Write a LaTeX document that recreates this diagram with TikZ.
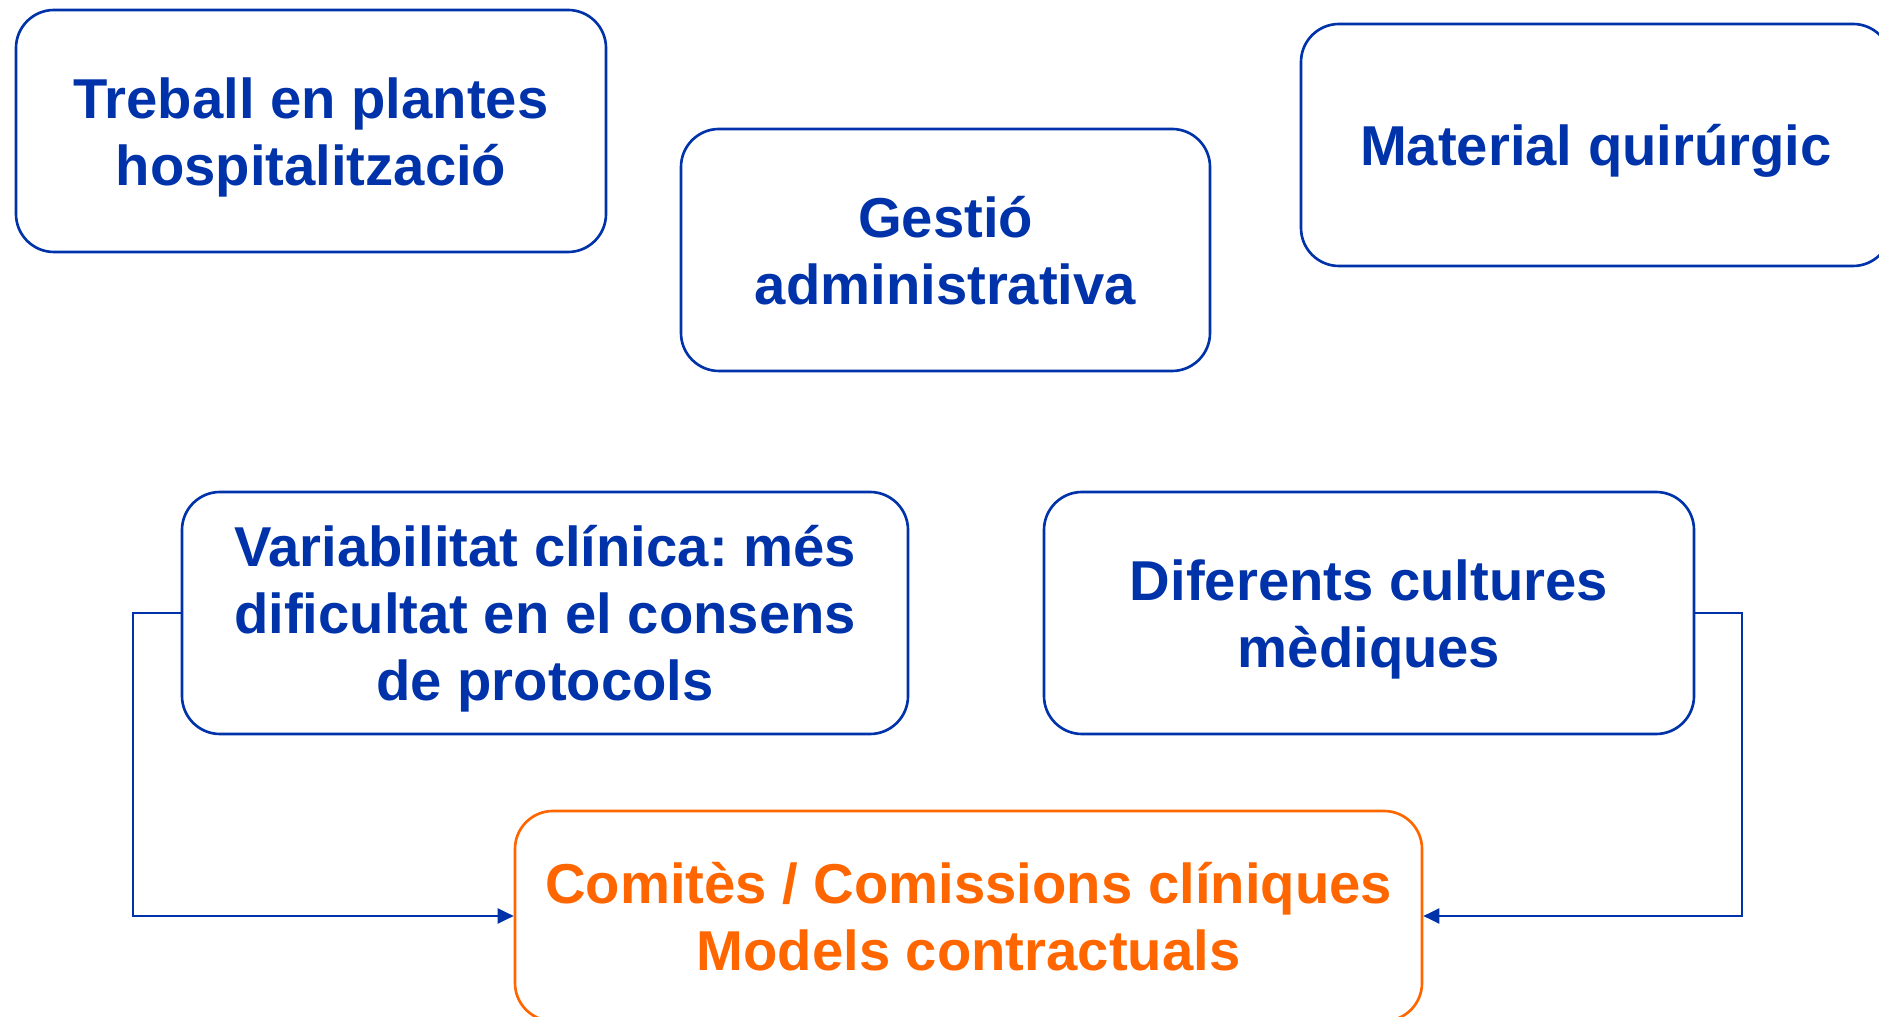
\documentclass[tikz,border=0pt]{standalone}
\usepackage{fontspec}
\setmainfont{Liberation Sans}
\usepackage{tikz}
\usetikzlibrary{arrows.meta,positioning,calc}
\frenchspacing
\definecolor{blauFosc}{RGB}{0,51,170}
\definecolor{taronja}{RGB}{255,102,0}
\tikzstyle{caixa}  =[draw=blauFosc, text=blauFosc, line width=0.75pt,
                    rounded corners=0.38cm, align=center, inner sep=0pt,
                    minimum height=2.42cm,
                    font=\fontsize{16}{19}\selectfont\bfseries,
                    text height=15.2pt, text depth=3.4pt]
\tikzstyle{dues}   =[text height=34.2pt]
\tikzstyle{tres}   =[text height=53.2pt]
\tikzstyle{caixaT} =[caixa, draw=taronja, text=taronja, minimum height=2.1cm]
\tikzstyle{fletxa} =[draw=blauFosc, line width=0.6pt,
                    -{Triangle[length=0.16cm,width=0.15cm]}]

\begin{document}
\begin{tikzpicture}
    \useasboundingbox (0,0) rectangle (18.79,-10.17);

            % fila de dalt
            \node (treball)[caixa, dues, minimum width=5.9cm] at (3.11,-1.31)
                {Treball en plantes\\hospitalització};
            \node (gestio)[caixa, dues, minimum width=5.29cm] at (9.455,-2.5)
                {Gestió\\administrativa};
            \node (material)[caixa, minimum width=5.9cm] at (15.96,-1.45)
                {Material quirúrgic};

            % fila del mig
            \node (variab)[caixa, tres, minimum width=7.26cm] at (5.45,-6.13)
                {Variabilitat clínica: més\\dificultat en el consens\\de protocols};
            \node (difer)[caixa, dues, minimum width=6.5cm] at (13.69,-6.13)
                {Diferents cultures\\mèdiques};

            % resposta
            \node (comites)[caixaT, dues, minimum width=9.07cm] at (9.685,-9.16)
                {Comitès / Comissions clíniques\\Models contractuals};

            \draw [fletxa] (variab.west) -- ++(-0.48,0) |- (comites.west);
            \draw [fletxa] (difer.east) -- ++(0.47,0) |- (comites.east);

\end{tikzpicture}
\end{document}
